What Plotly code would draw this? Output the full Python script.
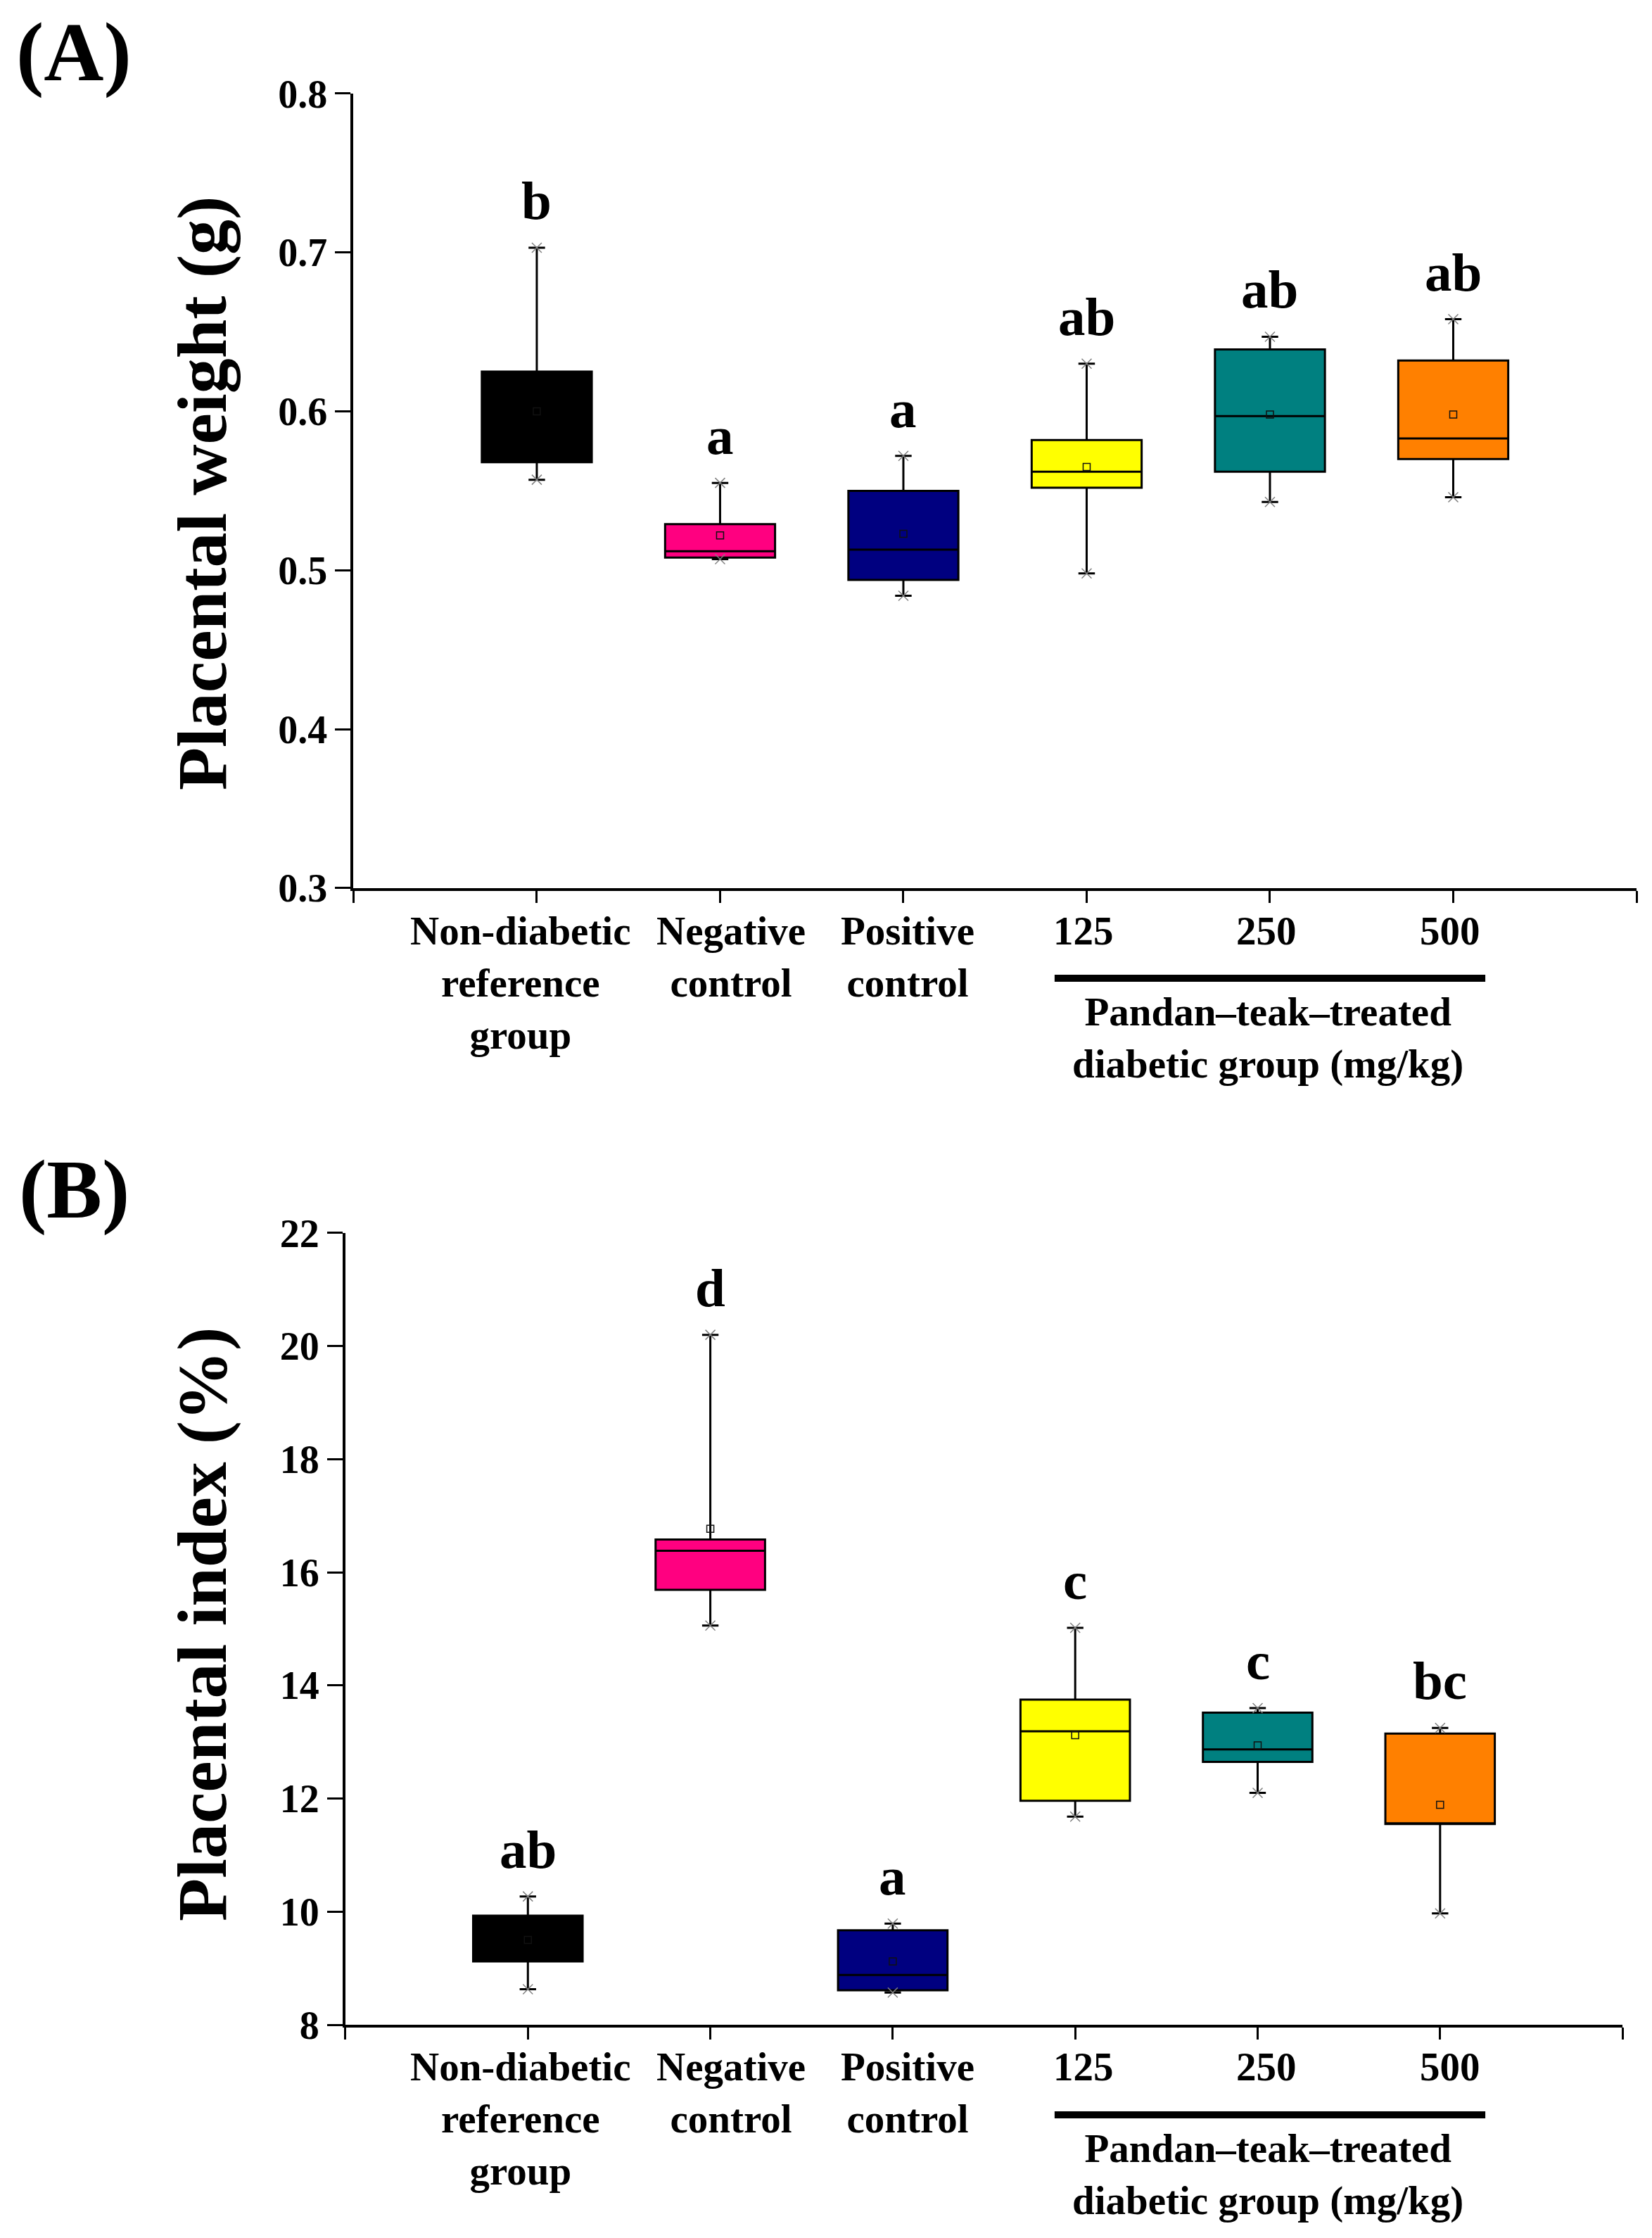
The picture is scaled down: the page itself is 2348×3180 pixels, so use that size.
import plotly.graph_objects as go

FONT = "Liberation Serif"

groups = [1, 2, 3, 4, 5, 6]
box_colors = ["#000000", "#FF0080", "#000080", "#FFFF00", "#008080", "#FF8000"]
group_labels = [
    "Non-diabetic<br>reference<br>group",
    "Negative<br>control",
    "Positive<br>control",
    "125",
    "250",
    "500",
]
treated_label = "Pandan\u2013teak\u2013treated<br>diabetic group (mg/kg)"

# (A) placental weight (g)
weight_low = [0.557, 0.507, 0.484, 0.498, 0.543, 0.546]
weight_q1 = [0.568, 0.508, 0.494, 0.552, 0.562, 0.570]
weight_median = [0.590, 0.512, 0.513, 0.562, 0.597, 0.583]
weight_q3 = [0.625, 0.529, 0.550, 0.582, 0.639, 0.632]
weight_high = [0.703, 0.555, 0.572, 0.630, 0.647, 0.658]
weight_mean = [0.600, 0.522, 0.523, 0.565, 0.598, 0.598]
weight_letters = ["b", "a", "a", "ab", "ab", "ab"]

# (B) placental index (%)
index_low = [8.63, 15.06, 8.57, 11.68, 12.10, 9.97]
index_q1 = [9.12, 15.69, 8.61, 11.96, 12.65, 11.55]
index_median = [9.50, 16.38, 8.88, 13.19, 12.87, 11.56]
index_q3 = [9.93, 16.58, 9.67, 13.75, 13.52, 13.15]
index_high = [10.27, 20.20, 9.79, 15.02, 13.60, 13.25]
index_mean = [9.50, 16.77, 9.12, 13.12, 12.94, 11.89]
index_letters = ["ab", "d", "a", "c", "c", "bc"]

# labels sit a little off their ticks in the original figure
label_shift = [-0.088, 0.061, 0.023, -0.019, -0.019, -0.019]

fig = go.Figure()


def add_panel(xa, ya, low, q1, med, q3, high, mean):
  for i, g in enumerate(groups):
    fig.add_trace(
      go.Box(
        x=[g],
        q1=[q1[i]],
        median=[med[i]],
        q3=[q3[i]],
        lowerfence=[low[i]],
        upperfence=[high[i]],
        width=0.6,
        whiskerwidth=0.15,
        fillcolor=box_colors[i],
        line=dict(color="black", width=3),
        boxpoints=False,
        showlegend=False,
        hoverinfo="skip",
        xaxis=xa,
        yaxis=ya,
      )
    )
  # min / max crosses at whisker ends
  fig.add_trace(
    go.Scatter(
      x=groups + groups,
      y=low + high,
      mode="markers",
      marker=dict(symbol="x-thin-open", size=14, color="#808080", line=dict(color="#808080", width=1.5)),
      showlegend=False,
      hoverinfo="skip",
      xaxis=xa,
      yaxis=ya,
    )
  )
  # mean markers
  fig.add_trace(
    go.Scatter(
      x=groups,
      y=mean,
      mode="markers",
      marker=dict(symbol="square-open", size=10, color="#111111", line=dict(color="#111111", width=1.5)),
      showlegend=False,
      hoverinfo="skip",
      xaxis=xa,
      yaxis=ya,
    )
  )


add_panel("x", "y", weight_low, weight_q1, weight_median, weight_q3, weight_high, weight_mean)
add_panel("x2", "y2", index_low, index_q1, index_median, index_q3, index_high, index_mean)

label_font = dict(family=FONT, size=57, color="black", weight="bold")
ytickfont = dict(family=FONT, size=56, color="black", weight="bold")

xcommon = dict(
  range=[0, 7],
  tickvals=[0] + groups + [7],
  ticktext=[""] * 8,
  showline=True,
  linecolor="black",
  linewidth=4,
  ticks="outside",
  ticklen=17,
  tickwidth=3,
  tickcolor="black",
  showgrid=False,
  zeroline=False,
  automargin=False,
)
ycommon = dict(
  showline=True,
  linecolor="black",
  linewidth=4,
  ticks="outside",
  ticklen=22,
  tickwidth=3,
  tickcolor="black",
  showgrid=False,
  zeroline=False,
  tickfont=ytickfont,
  automargin=False,
)

annotations = []
shapes = []

panels = [
  # x axis, y axis, whisker tops, letters, title, title y, tag, tag y, labels top, bar y, group label top
  ("x", "y", weight_high, weight_letters, "Placental weight (g)", 0.7815, "(A)", 0.9789, 0.5961, 0.5643, 0.5599),
  ("x2", "y2", index_high, index_letters, "Placental index (%)", 0.2749, "(B)", 0.4697, 0.0873, 0.0552, 0.0508),
]
for xa, ya, high, letters, title, title_y, tag, tag_y, lab_y, bar_y, group_y in panels:
  for g, h, t in zip(groups, high, letters):
    annotations.append(
      dict(
        x=g, y=h, xref=xa, yref=ya, text=t, showarrow=False,
        yanchor="bottom", yshift=22,
        font=dict(family=FONT, size=77, color="black", weight="bold"),
      )
    )
  # group names under the axis (same page position in both panels)
  for g, s, t in zip(groups, label_shift, group_labels):
    annotations.append(
      dict(
        x=g + s, y=lab_y, xref="x", yref="paper", text=t, showarrow=False,
        xanchor="center", yanchor="top", align="center", font=label_font,
      )
    )
  annotations.append(
    dict(
      x=0.1192, y=title_y, xref="paper", yref="paper", text=title, textangle=-90,
      showarrow=False, xanchor="center", yanchor="middle",
      font=dict(family=FONT, size=100, color="black", weight="bold"),
    )
  )
  annotations.append(
    dict(
      x=0.0415, y=tag_y, xref="paper", yref="paper", text=tag, showarrow=False,
      xanchor="center", yanchor="middle",
      font=dict(family=FONT, size=118, color="black", weight="bold"),
    )
  )
  annotations.append(
    dict(
      x=4.99, y=group_y, xref="x", yref="paper", text=treated_label, showarrow=False,
      xanchor="center", yanchor="top", font=label_font,
    )
  )
  shapes.append(
    dict(
      type="line", xref="x", yref="paper", x0=3.825, x1=6.175, y0=bar_y, y1=bar_y,
      line=dict(color="black", width=10),
    )
  )

# the page adds an 8 px body margin, so the figure is 8 px smaller each way
fig.update_layout(
  width=2340,
  height=3172,
  margin=dict(l=0, r=0, t=0, b=0),
  paper_bgcolor="white",
  plot_bgcolor="white",
  xaxis=dict(domain=[0.2113, 0.9906], anchor="y", **xcommon),
  yaxis=dict(domain=[0.6047, 0.9606], anchor="x", range=[0.3, 0.8], dtick=0.1, tickformat=".1f", **ycommon),
  xaxis2=dict(domain=[0.2064, 0.9821], anchor="y2", **xcommon),
  yaxis2=dict(domain=[0.0955, 0.4502], anchor="x2", range=[8, 22], dtick=2, **ycommon),
  annotations=annotations,
  shapes=shapes,
)

fig.write_html("out.html")
